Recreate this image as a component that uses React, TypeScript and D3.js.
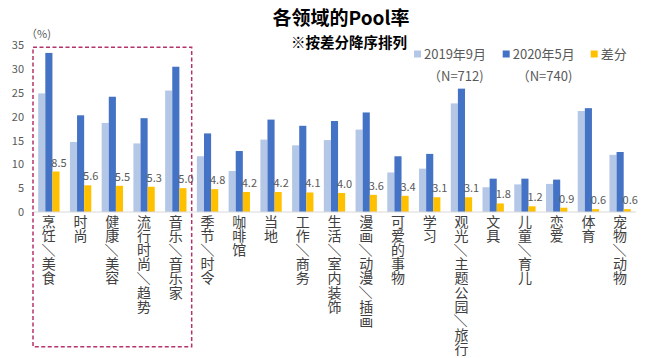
import React, { useEffect, useRef } from 'react';
import * as d3 from 'd3';

const categories = [
  '烹饪/美食', '时尚', '健康/美容', '流行时尚/趋势', '音乐/音乐家', '季节/时令', '咖啡馆', '当地',
  '工作/商务', '生活/室内装饰', '漫画/动漫/插画', '可爱的事物', '学习', '观光/主题公园/旅行',
  '文具', '儿童/育儿', '恋爱', '体育', '宠物/动物',
];
const sep2019 = [24.9, 14.7, 18.7, 14.4, 25.5, 11.7, 8.6, 15.2, 14.0, 15.1, 17.3, 8.3, 9.1, 22.8, 5.2, 5.8, 5.9, 21.2, 12.0];
const may2020 = [33.4, 20.3, 24.2, 19.7, 30.5, 16.5, 12.8, 19.4, 18.1, 19.1, 20.9, 11.7, 12.2, 25.9, 7.0, 7.0, 6.8, 21.8, 12.6];
const diffs = [8.5, 5.6, 5.5, 5.3, 5.0, 4.8, 4.2, 4.2, 4.1, 4.0, 3.6, 3.4, 3.1, 3.1, 1.8, 1.2, 0.9, 0.6, 0.6];
const seriesNames = ['2019年9月', '2020年5月', '差分'];
const seriesNotes = ['（N=712)', '（N=740)', ''];
const yTicks = [0, 5, 10, 15, 20, 25, 30, 35];

const colors = ['#B4C7E7', '#4472C4', '#FFC000'];
const font = '"Noto Sans CJK SC", "Noto Sans", sans-serif';

export default function App() {
  const ref = useRef<SVGSVGElement>(null);

  useEffect(() => {
    const svg = d3.select(ref.current);
    svg.selectAll('*').remove();

    const left = 33, right = 636, top = 45.3, bottom = 212;

    const y = d3.scaleLinear().domain([0, 35]).range([bottom, top]);
    const x0 = d3.scaleBand().domain(categories).range([left, right]).padding(0);
    const bw = x0.bandwidth();
    const x1 = d3.scaleBand().domain(seriesNames).range([5.2, bw - 5.2]).padding(0);

    const data = categories.map((c, i) => ({ c, vals: [sep2019[i], may2020[i], diffs[i]] }));

    // title
    svg.append('text')
      .attr('x', 341).attr('y', 25)
      .attr('text-anchor', 'middle')
      .attr('font-family', font).attr('font-weight', 'bold').attr('font-size', 19)
      .text('各领域的Pool率');
    svg.append('text')
      .attr('x', 349).attr('y', 48)
      .attr('text-anchor', 'middle')
      .attr('font-family', font).attr('font-weight', 'bold').attr('font-size', 14.5)
      .text('※按差分降序排列');

    // y axis labels
    svg.append('g').selectAll('text')
      .data(yTicks).enter()
      .append('text')
      .attr('x', 24).attr('y', d => y(d) + 4)
      .attr('text-anchor', 'end')
      .attr('font-family', font).attr('font-size', 11).attr('fill', '#595959')
      .text(d => d);
    svg.append('text')
      .attr('x', 26).attr('y', 38)
      .attr('font-family', font).attr('font-size', 11).attr('fill', '#595959')
      .text('（%)');

    // bars
    const groups = svg.append('g').selectAll('g')
      .data(data).enter()
      .append('g')
      .attr('transform', d => `translate(${x0(d.c)},0)`);
    groups.selectAll('rect')
      .data(d => d.vals.map((v, k) => ({ v, k })))
      .enter().append('rect')
      .attr('x', d => x1(seriesNames[d.k])!)
      .attr('y', d => y(d.v))
      .attr('width', x1.bandwidth())
      .attr('height', d => bottom - y(d.v))
      .attr('fill', d => colors[d.k]);

    // diff labels
    groups.append('text')
      .attr('x', x1(seriesNames[2])! + x1.bandwidth() / 2 + 3)
      .attr('y', d => y(d.vals[2]) - 5)
      .attr('text-anchor', 'middle')
      .attr('font-family', font).attr('font-size', 11).attr('fill', '#595959')
      .text(d => d.vals[2].toFixed(1));

    // x axis line
    svg.append('line')
      .attr('x1', left).attr('x2', right).attr('y1', bottom).attr('y2', bottom)
      .attr('stroke', '#D9D9D9').attr('stroke-width', 1);

    // vertical category labels, one glyph per line
    const step = 14.1;
    groups.each(function (d) {
      const g = d3.select(this);
      Array.from(d.c).forEach((ch, j) => {
        const cy = 222 + j * step;
        const t = g.append('text')
          .attr('x', bw / 2).attr('y', cy + 5)
          .attr('text-anchor', 'middle')
          .attr('font-family', font).attr('font-size', 14).attr('fill', '#404040')
          .text(ch === '/' ? '／' : ch);
        if (ch === '/') t.attr('transform', `rotate(90, ${bw / 2}, ${cy})`);
      });
    });

    // highlight box
    svg.append('rect')
      .attr('x', left).attr('y', 47.3)
      .attr('width', x0(categories[5])! - left)
      .attr('height', 346.7 - 47.3)
      .attr('fill', 'none')
      .attr('stroke', '#B5336B').attr('stroke-width', 1.5)
      .attr('stroke-dasharray', '4,2.5');

    // legend
    const legX = [414, 502.7, 590.7];
    const leg = svg.append('g').selectAll('g')
      .data(seriesNames).enter()
      .append('g')
      .attr('transform', (d, i) => `translate(${legX[i]},0)`);
    leg.append('rect')
      .attr('x', 0).attr('y', 50.5).attr('width', 7).attr('height', 7)
      .attr('fill', (d, i) => colors[i]);
    leg.append('text')
      .attr('x', 10).attr('y', 58.5)
      .attr('font-family', font).attr('font-size', 13).attr('fill', '#595959')
      .text(d => d);
    leg.append('text')
      .attr('x', 14).attr('y', 80.5)
      .attr('font-family', font).attr('font-size', 13).attr('fill', '#595959')
      .text((d, i) => seriesNotes[i]);
  }, []);

  return (
    <svg ref={ref} width={649} height={358}
      style={{ position: 'absolute', left: 0, top: 0, background: '#fff' }} />
  );
}
